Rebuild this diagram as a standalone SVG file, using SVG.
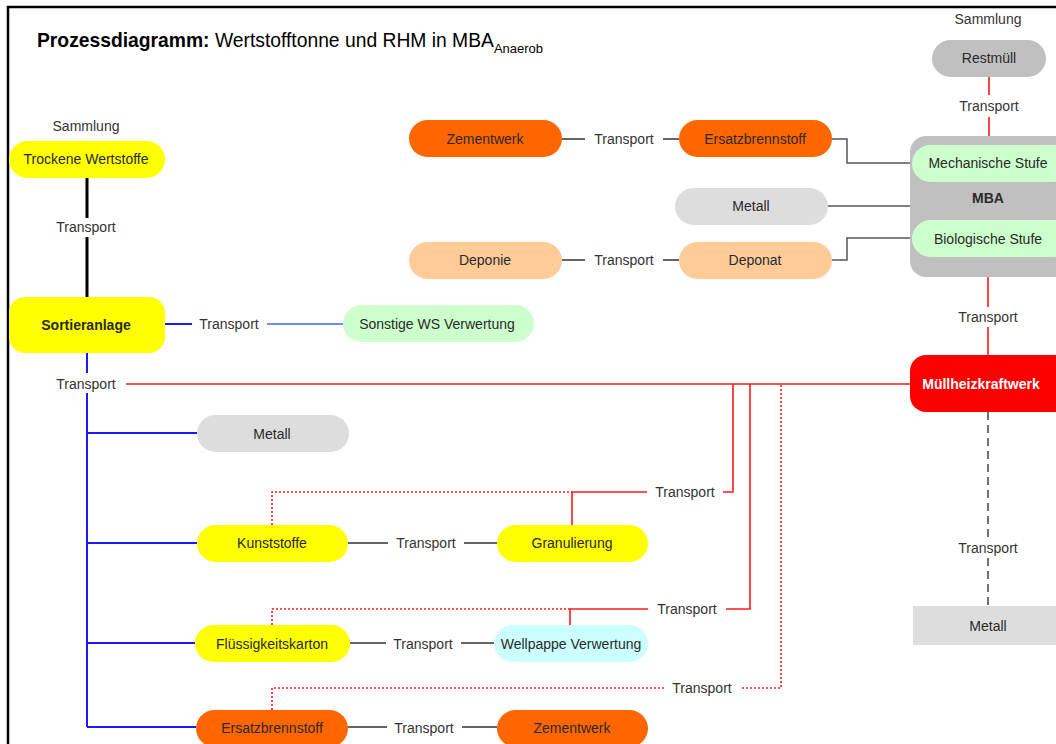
<svg xmlns="http://www.w3.org/2000/svg" width="1056" height="744" viewBox="0 0 1056 744">
  <style>
    text { font-family: "Liberation Sans", Arial, sans-serif; font-size: 14px; fill: #2a2a2a; text-anchor: middle; dominant-baseline: central; }
    .b { font-weight: bold; }
    .lbl { fill: #333; }
    .yel { fill: #ffff00; }
    .org { fill: #ff6600; }
    .pea { fill: #ffcc99; }
    .lgr { fill: #dddddd; }
    .gry { fill: #c0c0c0; }
    .grn { fill: #ccffcc; }
    .cya { fill: #ccffff; }
    .red { fill: #ff0000; }
    .c { fill: none; }
    .k { stroke: #333; stroke-width: 1.5; }
    .kg { stroke: #555; stroke-width: 1.5; }
    .kt { stroke: #000; stroke-width: 3; }
    .bl { stroke: #1a1aff; stroke-width: 2; }
    .lb { stroke: #6a8cff; stroke-width: 2; }
    .r { stroke: #ff1a1a; stroke-width: 1.6; }
    .rd { stroke: #ff1a1a; stroke-width: 1.6; stroke-dasharray: 2 2; }
    .gd { stroke: #444; stroke-width: 1.5; stroke-dasharray: 8 5; }
  </style>

  <rect width="1056" height="744" fill="#fff"/>
  <path d="M8,744 V7 H1056" fill="none" stroke="#000" stroke-width="2.5"/>

  <text x="37" y="47" style="text-anchor:start;dominant-baseline:auto;font-size:19.3px;fill:#000"><tspan class="b">Prozessdiagramm:</tspan> Wertstofftonne und RHM in MBA<tspan dy="6" style="font-size:13px">Anaerob</tspan></text>

  <!-- connectors -->
  <g id="connectors" class="c">
    <path class="r" d="M989,77 V95 M989,117 V136"/>
    <path class="k" d="M562,139 H585 M663,139 H679"/>
    <path class="kg" d="M832,139 H847 V163 H912"/>
    <path class="kg" d="M828,206 H910"/>
    <path class="k" d="M562,260 H585 M663,260 H679"/>
    <path class="kg" d="M832,260 H847 V238 H912"/>
    <path class="kt" d="M87,178 V218 M87,237 V297"/>
    <path class="bl" d="M165,324 H192"/>
    <path class="lb" d="M267,324 H343"/>
    <path class="bl" d="M87,353 V373 M87,393 V727"/>
    <path class="bl" d="M87,433 H197 M87,543 H197 M87,643 H195 M87,727 H196"/>
    <path class="r" d="M126,384 H910"/>
    <path class="r" d="M988,277 V307 M988,327 V355"/>
    <path class="rd" d="M272,525 V492 H572"/>
    <path class="r" d="M572,525 V492 H647 M723,492 H733 V384"/>
    <path class="rd" d="M272,625 V609 H570"/>
    <path class="r" d="M570,625 V609 H648 M726,609 H750 V384"/>
    <path class="rd" d="M272,710 V688 H665 M742,688 H781 V384"/>
    <path class="gd" d="M988,412 V538 M988,558 V606"/>
    <path class="k" d="M348,543 H388 M464,543 H497"/>
    <path class="k" d="M350,643 H386 M461,643 H494"/>
    <path class="k" d="M348,727 H387 M462,727 H497"/>
  </g>

  <!-- connector labels -->
  <g id="connector-labels">
    <text class="lbl" x="989" y="106">Transport</text>
    <text class="lbl" x="624" y="139">Transport</text>
    <text class="lbl" x="624" y="260">Transport</text>
    <text class="lbl" x="86" y="227">Transport</text>
    <text class="lbl" x="229" y="324">Transport</text>
    <text class="lbl" x="86" y="384">Transport</text>
    <text class="lbl" x="988" y="317">Transport</text>
    <text class="lbl" x="685" y="492">Transport</text>
    <text class="lbl" x="426" y="543">Transport</text>
    <text class="lbl" x="687" y="609">Transport</text>
    <text class="lbl" x="423" y="644">Transport</text>
    <text class="lbl" x="702" y="688">Transport</text>
    <text class="lbl" x="424" y="728">Transport</text>
    <text class="lbl" x="988" y="548">Transport</text>
  </g>

  <text class="lbl" x="86" y="126">Sammlung</text>
  <text class="lbl" x="988" y="19">Sammlung</text>

  <!-- nodes -->
  <g id="restmuell"><rect class="gry" x="932" y="40" width="114" height="37" rx="18.5"/><text x="989" y="58">Restmüll</text></g>
  <g id="mba">
    <rect class="gry" x="910" y="136" width="170" height="141" rx="16"/>
    <text class="b" x="988" y="198">MBA</text>
  </g>
  <g id="mechanische-stufe"><rect class="grn" x="912" y="145" width="160" height="37" rx="18.5"/><text x="988" y="163">Mechanische Stufe</text></g>
  <g id="biologische-stufe"><rect class="grn" x="912" y="220" width="160" height="37" rx="18.5"/><text x="988" y="239">Biologische Stufe</text></g>
  <g id="zementwerk-oben"><rect class="org" x="409" y="120" width="153" height="37" rx="18.5"/><text x="485" y="139">Zementwerk</text></g>
  <g id="ersatzbrennstoff-oben"><rect class="org" x="679" y="120" width="153" height="37" rx="18.5"/><text x="755" y="139">Ersatzbrennstoff</text></g>
  <g id="metall-oben"><rect class="lgr" x="675" y="188" width="153" height="37" rx="18.5"/><text x="751" y="206">Metall</text></g>
  <g id="deponie"><rect class="pea" x="409" y="242" width="153" height="37" rx="18.5"/><text x="485" y="260">Deponie</text></g>
  <g id="deponat"><rect class="pea" x="679" y="242" width="153" height="37" rx="18.5"/><text x="755" y="260">Deponat</text></g>
  <g id="trockene-wertstoffe"><rect class="yel" x="9" y="141" width="156" height="37" rx="18.5"/><text x="86" y="159">Trockene Wertstoffe</text></g>
  <g id="sortieranlage"><rect class="yel" x="9" y="297" width="156" height="56" rx="16"/><text class="b" x="86" y="325">Sortieranlage</text></g>
  <g id="sonstige-ws"><rect class="grn" x="343" y="305" width="191" height="37" rx="18.5"/><text x="437" y="324">Sonstige WS Verwertung</text></g>
  <g id="muellheizkraftwerk"><rect class="red" x="910" y="355" width="170" height="57" rx="16"/><text class="b" x="981" y="384" style="fill:#fff">Müllheizkraftwerk</text></g>
  <g id="metall-links"><rect class="lgr" x="197" y="415" width="152" height="37" rx="18.5"/><text x="272" y="434">Metall</text></g>
  <g id="kunststoffe"><rect class="yel" x="197" y="525" width="151" height="37" rx="18.5"/><text x="272" y="543">Kunststoffe</text></g>
  <g id="granulierung"><rect class="yel" x="497" y="525" width="151" height="37" rx="18.5"/><text x="572" y="543">Granulierung</text></g>
  <g id="fluessigkeitskarton"><rect class="yel" x="195" y="625" width="155" height="37" rx="18.5"/><text x="272" y="644">Flüssigkeitskarton</text></g>
  <g id="wellpappe"><rect class="cya" x="494" y="625" width="154" height="37" rx="18.5"/><text x="571" y="644">Wellpappe Verwertung</text></g>
  <g id="ersatzbrennstoff-unten"><rect class="org" x="196" y="710" width="152" height="37" rx="18.5"/><text x="272" y="728">Ersatzbrennstoff</text></g>
  <g id="zementwerk-unten"><rect class="org" x="497" y="710" width="151" height="37" rx="18.5"/><text x="572" y="728">Zementwerk</text></g>
  <g id="metall-rechts"><rect class="lgr" x="913" y="606" width="160" height="39"/><text x="988" y="626">Metall</text></g>
</svg>
